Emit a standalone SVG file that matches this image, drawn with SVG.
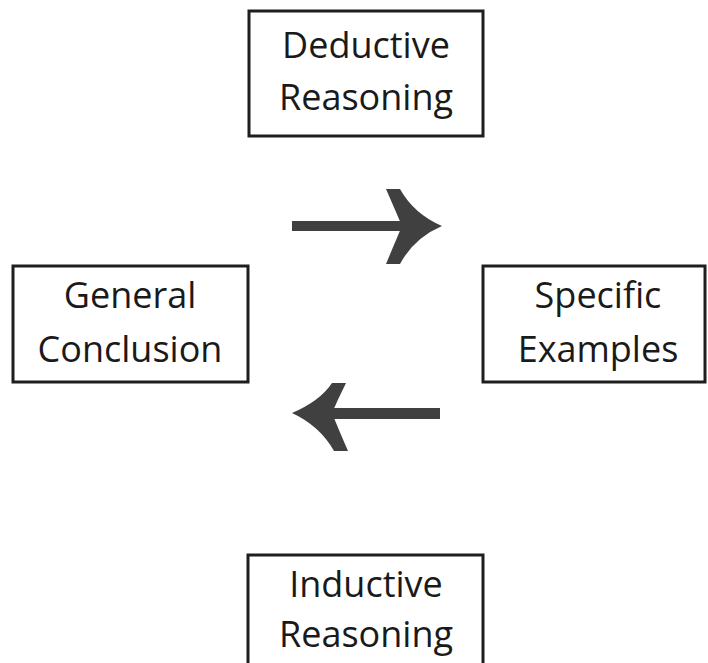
<svg xmlns="http://www.w3.org/2000/svg" width="708" height="663" viewBox="0 0 708 663">
<style>
.box{fill:#fff;stroke:#1e1e1e;stroke-width:3}
.t{font-family:"Open Sans","Liberation Sans",sans-serif;font-size:36px;fill:#1a1a1a;text-anchor:middle}
.arr{fill:#404040}
</style>
<rect width="708" height="663" fill="#fff"/>
<g id="deductive">
<rect class="box" x="249" y="11" width="234" height="125"/>
<text class="t" x="366" y="58">Deductive</text>
<text class="t" x="366" y="110">Reasoning</text>
</g>
<g id="general">
<rect class="box" x="13" y="266" width="235" height="116"/>
<text class="t" x="130" y="308">General</text>
<text class="t" x="130" y="362">Conclusion</text>
</g>
<g id="specific">
<rect class="box" x="483" y="266" width="222" height="116"/>
<text class="t" x="598" y="308">Specific</text>
<text class="t" x="598" y="362">Examples</text>
</g>
<g id="inductive">
<rect class="box" x="248" y="555" width="235" height="115"/>
<text class="t" x="366" y="597">Inductive</text>
<text class="t" x="366" y="647">Reasoning</text>
</g>
<g id="connectors">
<path class="arr" d="M292,221 L406,221 L406,231 L292,231 Z"/>
<path class="arr" d="M386,189 L400,189 Q414,214 442,226 Q414,238 400,264 L386,264 Q396,240 402,226 Q396,212 386,189 Z"/>
<path class="arr" d="M328,408 L440,408 L440,419 L328,419 Z"/>
<path class="arr" d="M346,383 L332,383 Q320,401 292,413 Q320,426 334,451 L348,451 Q338,428 332,413 Q338,399 346,383 Z"/>
</g>
</svg>
